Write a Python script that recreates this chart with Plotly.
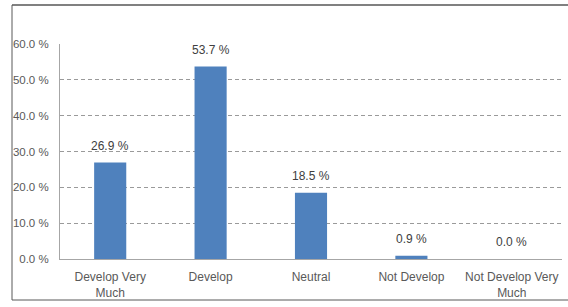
import plotly.graph_objects as go

categories = ["Develop Very<br>Much", "Develop", "Neutral", "Not Develop", "Not Develop Very<br>Much"]
values = [26.9, 53.7, 18.5, 0.9, 0.0]
ytick_vals = [0, 10, 20, 30, 40, 50, 60]
ytick_text = [f"{v:.1f} %" for v in ytick_vals]
labels = [f"{v:.1f} %" for v in values]

FONT = "Liberation Sans"
fig = go.Figure()
fig.add_trace(go.Bar(
    x=categories, y=values,
    marker=dict(color="#4f81bd", line=dict(width=0)),
    width=0.32,
))

for c, v, t in zip(categories, values, labels):
    fig.add_annotation(x=c, y=v, text=t, showarrow=False, yanchor="bottom",
                       yshift=8, font=dict(size=12, color="#404040", family=FONT))

W, H = 568, 307
L, R, T, B = 60, 6, 44, 48
pw, ph = W - L - R, H - T - B

def px_x(x):
    return (x - L) / pw

def px_y(y):
    return (H - B - y) / ph

fig.update_layout(
    width=W, height=H,
    margin=dict(l=L, r=R, t=T, b=B),
    paper_bgcolor="white", plot_bgcolor="white",
    showlegend=False,
    font=dict(family=FONT, size=11, color="#595959"),
    xaxis=dict(
        showline=True, linecolor="#a6a6a6", linewidth=1,
        ticks="", tickfont=dict(size=12, color="#595959"),
        ticklabelstandoff=7,
        showgrid=False, automargin=False, fixedrange=True,
    ),
    yaxis=dict(
        range=[0, 60], tickvals=ytick_vals, ticktext=ytick_text,
        showline=True, linecolor="#a6a6a6", linewidth=1,
        showgrid=True, gridcolor="#9a9a9a", griddash="4px,3px", gridwidth=1,
        zeroline=False, ticks="", ticklabelstandoff=8,
        tickfont=dict(size=11.5, color="#595959"),
        automargin=False, fixedrange=True,
    ),
    shapes=[
        dict(type="line", xref="paper", yref="paper", x0=px_x(12), x1=px_x(568), y0=px_y(5), y1=px_y(5),
             line=dict(color="#808080", width=2)),
        dict(type="line", xref="paper", yref="paper", x0=px_x(12), x1=px_x(12), y0=px_y(300), y1=px_y(5),
             line=dict(color="#595959", width=1)),
        dict(type="line", xref="paper", yref="paper", x0=px_x(12), x1=px_x(568), y0=px_y(300), y1=px_y(300),
             line=dict(color="#595959", width=1)),
    ],
)

fig.write_html("out.html", config={"displayModeBar": False},
               post_script="document.body.style.margin='0';document.body.style.overflow='hidden';")
